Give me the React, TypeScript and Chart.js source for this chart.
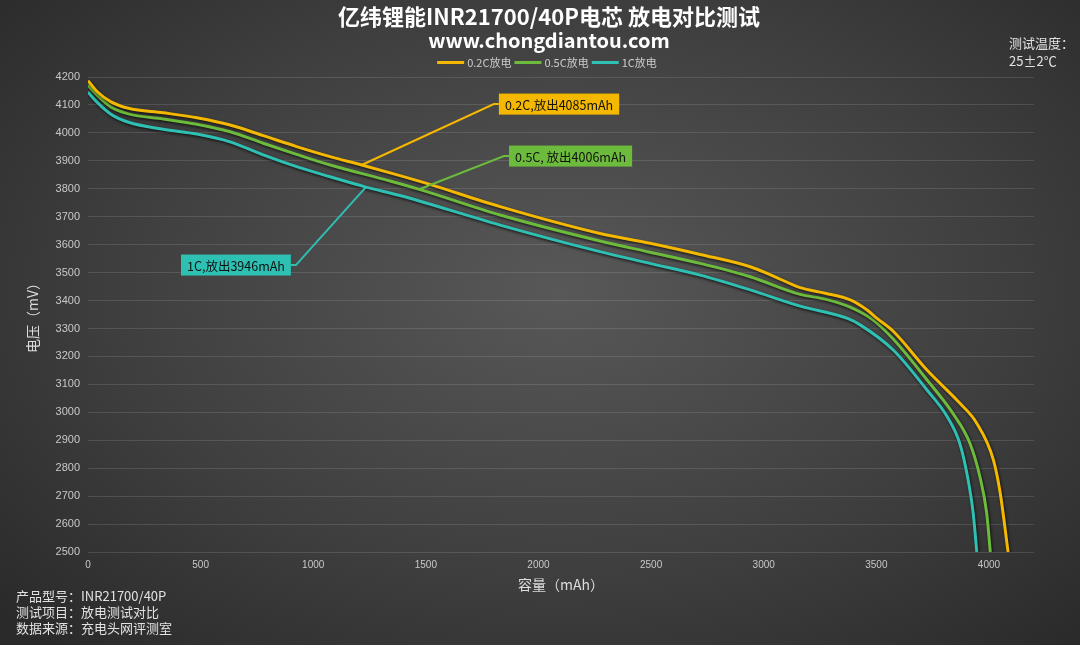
import React, { useEffect, useRef } from "react";
import { Chart, registerables } from "chart.js";

Chart.register(...registerables);

// capacity (mAh) / voltage (mV)
const capacity02 = [0, 40, 100, 180, 334, 483, 631, 778, 926, 1075, 1215, 1385, 1500, 1830, 2273, 2495, 2718, 2940, 3050, 3162, 3273, 3384, 3459, 3503, 3575, 3725, 3870, 3945, 4020, 4050, 4085];
const voltage02 = [4187, 4148, 4112, 4088, 4072, 4054, 4028, 3990, 3951, 3915, 3885, 3847, 3820, 3736, 3640, 3605, 3565, 3521, 3485, 3446, 3426, 3402, 3366, 3336, 3290, 3151, 3033, 2962, 2829, 2711, 2500];

const capacity05 = [0, 40, 100, 180, 334, 483, 631, 778, 926, 1075, 1341, 1475, 1830, 2273, 2495, 2718, 2940, 3162, 3273, 3384, 3486, 3575, 3725, 3840, 3915, 3960, 3990, 4006];
const voltage05 = [4171, 4136, 4094, 4068, 4050, 4031, 4004, 3963, 3923, 3885, 3828, 3797, 3706, 3613, 3573, 3533, 3485, 3422, 3405, 3376, 3330, 3262, 3116, 2996, 2890, 2769, 2639, 2500];

const capacity1 = [0, 40, 100, 180, 334, 483, 631, 778, 926, 1075, 1234, 1385, 1830, 2273, 2495, 2718, 2940, 3162, 3375, 3430, 3575, 3725, 3815, 3870, 3905, 3930, 3946];
const voltage1 = [4146, 4110, 4068, 4038, 4013, 3996, 3968, 3921, 3879, 3843, 3806, 3776, 3670, 3575, 3533, 3491, 3438, 3380, 3335, 3312, 3223, 3080, 2984, 2890, 2769, 2639, 2500];

const seriesLabels = ["0.2C放电", "0.5C放电", "1C放电"];
const seriesColors = ["#f5b800", "#6cbb3c", "#2ec0b3"];
const xTickValues = [0, 500, 1000, 1500, 2000, 2500, 3000, 3500, 4000];

// callouts: text, point on the curve, elbow of the leader (data coords)
const calloutTexts = ["0.2C,放出4085mAh", "0.5C, 放出4006mAh", "1C,放出3946mAh"];
const calloutAnchorX = [1215, 1474, 1234];
const calloutAnchorY = [3885, 3799, 3806];
const calloutElbowX = [1802, 1847, 923];
const calloutElbowY = [4103, 3917, 3527];
const calloutSide = ["right", "right", "left"];

const titleText = "亿纬锂能INR21700/40P电芯 放电对比测试";
const subtitleText = "www.chongdiantou.com";
const tempLines = ["测试温度：", "25±2℃"];
const infoLines = ["产品型号：INR21700/40P", "测试项目：放电测试对比", "数据来源：充电头网评测室"];

const CJK = '"Noto Sans CJK SC", "Noto Sans", sans-serif';
const LATIN = '"Liberation Sans", Arial, sans-serif';

const toPoints = (xs: number[], ys: number[]) => xs.map((x, i) => ({ x, y: ys[i] }));

const shadowPlugin = {
  id: "lineShadow",
  beforeDatasetsDraw(chart: any) {
    const c = chart.ctx;
    c.save();
    c.shadowColor = "rgba(0,0,0,0.75)";
    c.shadowBlur = 3;
    c.shadowOffsetX = 1;
    c.shadowOffsetY = 1.5;
  },
  afterDatasetsDraw(chart: any) {
    chart.ctx.restore();
  },
};

const textPlugin = {
  id: "texts",
  afterDraw(chart: any) {
    const c = chart.ctx;
    const xs = chart.scales.x;
    const ys = chart.scales.y;
    c.save();

    // callouts
    calloutTexts.forEach((t, i) => {
      const color = seriesColors[i];
      const ax = xs.getPixelForValue(calloutAnchorX[i]);
      const ay = ys.getPixelForValue(calloutAnchorY[i]);
      const ex = xs.getPixelForValue(calloutElbowX[i]);
      const ey = ys.getPixelForValue(calloutElbowY[i]);
      c.font = `12.5px ${CJK}`;
      const w = c.measureText(t).width + 12;
      const h = 21;
      const gap = 5;
      const bx = calloutSide[i] === "right" ? ex + gap : ex - gap - w;
      c.strokeStyle = color;
      c.lineWidth = 2;
      c.beginPath();
      c.moveTo(ax, ay);
      c.lineTo(ex, ey);
      c.lineTo(calloutSide[i] === "right" ? bx : bx + w, ey);
      c.stroke();
      c.fillStyle = color;
      c.fillRect(bx, ey - h / 2, w, h);
      c.fillStyle = "#111";
      c.textAlign = "left";
      c.textBaseline = "middle";
      c.fillText(t, bx + 6, ey + 1);
    });

    // title + subtitle
    c.fillStyle = "#ffffff";
    c.textAlign = "center";
    c.textBaseline = "middle";
    c.font = `bold 22px ${CJK}`;
    c.fillText(titleText, 549, 17);
    c.font = `bold 20px ${CJK}`;
    c.fillText(subtitleText, 549, 40);

    // legend
    c.font = `11px ${CJK}`;
    const sw = 27;
    const widths = seriesLabels.map((l) => sw + 3 + c.measureText(l).width);
    const total = widths.reduce((a, b) => a + b, 0) + 3 * (widths.length - 1);
    let lx = 547 - total / 2;
    seriesLabels.forEach((l, i) => {
      c.fillStyle = seriesColors[i];
      c.fillRect(lx, 61, sw, 3);
      c.fillStyle = "#cccccc";
      c.textAlign = "left";
      c.fillText(l, lx + sw + 3, 62.5);
      lx += widths[i] + 3;
    });

    // side notes
    c.fillStyle = "#e2e2e2";
    c.font = `13px ${CJK}`;
    c.textAlign = "left";
    tempLines.forEach((l, i) => c.fillText(l, 1009, 43 + i * 18));
    infoLines.forEach((l, i) => c.fillText(l, 16, 596 + i * 16));
    c.restore();
  },
};

const App: React.FC = () => {
  const canvasRef = useRef<HTMLCanvasElement>(null);

  useEffect(() => {
    if (!canvasRef.current) return;
    const datasets = [
      [capacity02, voltage02],
      [capacity05, voltage05],
      [capacity1, voltage1],
    ].map(([xs, ys], i) => ({
      label: seriesLabels[i],
      data: toPoints(xs, ys),
      borderColor: seriesColors[i],
      backgroundColor: seriesColors[i],
      borderWidth: 3,
      pointRadius: 0,
      cubicInterpolationMode: "monotone" as const,
      fill: false,
    }));

    const chart = new Chart(canvasRef.current, {
      type: "line",
      data: { datasets },
      options: {
        animation: false,
        responsive: true,
        maintainAspectRatio: false,
        layout: { padding: { top: 77, left: 20, right: 46, bottom: 48 } },
        plugins: {
          legend: { display: false },
          title: { display: false },
          tooltip: { enabled: false },
        },
        scales: {
          x: {
            type: "linear",
            min: 0,
            max: 4200,
            grid: { display: false, drawTicks: false },
            border: { display: false },
            ticks: {
              autoSkip: false,
              padding: 7,
              color: "#c8c8c8",
              font: { family: LATIN, size: 10 },
              maxRotation: 0,
              callback: (v: any) => String(v),
            },
            afterBuildTicks: (axis: any) => {
              axis.ticks = xTickValues.map((value) => ({ value }));
            },
            afterFit: (axis: any) => {
              axis.height = 45;
            },
            title: {
              display: true,
              text: "容量（mAh）",
              color: "#dddddd",
              font: { family: CJK, size: 14 },
              padding: { top: 4, bottom: 4 },
            },
          },
          y: {
            min: 2500,
            max: 4200,
            grid: { color: "rgba(255,255,255,0.12)", drawTicks: false },
            border: { display: false },
            ticks: {
              stepSize: 100,
              padding: 8,
              color: "#c8c8c8",
              font: { family: LATIN, size: 11 },
              callback: (v: any) => String(v),
            },
            afterFit: (axis: any) => {
              axis.width = 68;
            },
            title: {
              display: true,
              text: "电压（mV）",
              color: "#dddddd",
              font: { family: CJK, size: 14 },
              padding: { top: 4, bottom: 4 },
            },
          },
        },
      },
      plugins: [shadowPlugin, textPlugin],
    });

    return () => {
      chart.destroy();
    };
  }, []);

  return (
    <div
      style={{
        position: "fixed",
        left: 0,
        top: 0,
        width: 1080,
        height: 645,
        background:
          "radial-gradient(ellipse 70% 75% at 52% 45%, #585858 0%, #3e3e3e 60%, #2a2a2a 100%)",
      }}
    >
      <canvas ref={canvasRef} />
    </div>
  );
};

export default App;
